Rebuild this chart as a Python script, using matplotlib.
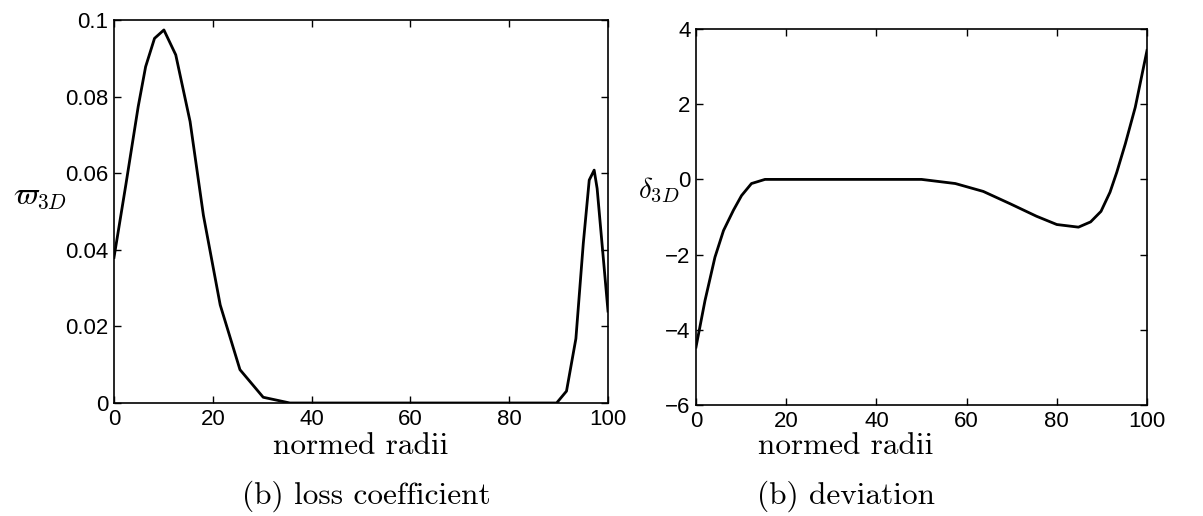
import numpy as np
import matplotlib
matplotlib.use("Agg")
import matplotlib.pyplot as plt

plt.rcParams['font.family'] = ['Liberation Sans', 'DejaVu Sans']
plt.rcParams['mathtext.fontset'] = 'cm'

# loss coefficient
r_loss = [0, 2.4, 4.9, 6.4, 8.2, 10.1, 12.5, 15.4, 18.1, 21.5, 25.5, 30.2, 35.6,
          40, 50, 60, 70, 80, 89.6, 91.6, 93.5, 95.0, 96.2, 97.2, 97.8, 100]
loss = [0.038, 0.057, 0.0774, 0.0878, 0.0952, 0.0974, 0.0909, 0.0735, 0.049,
        0.0256, 0.0087, 0.0015, 0.0, 0.0, 0.0, 0.0, 0.0, 0.0, 0.0, 0.0031,
        0.0168, 0.0417, 0.0582, 0.0608, 0.056, 0.024]

# deviation
r_dev = [0, 2.0, 4.2, 6.1, 8.3, 10.1, 12.3, 15.3, 20, 30, 40, 50, 57.5, 63.7,
         69.7, 75.5, 80, 84.8, 87.5, 89.8, 91.8, 93.3, 95.2, 97.4, 100]
dev = [-4.46, -3.22, -2.07, -1.36, -0.82, -0.43, -0.11, 0.0, 0.0, 0.0, 0.0, 0.0,
       -0.11, -0.32, -0.65, -0.98, -1.2, -1.27, -1.13, -0.85, -0.34, 0.19, 0.95,
       1.92, 3.43]

W, H = 1203, 516
fig = plt.figure(figsize=(W / 100, H / 100), dpi=100)

ax1 = fig.add_axes([114 / W, (H - 403) / H, (608 - 114) / W, (403 - 20) / H])
ax2 = fig.add_axes([696 / W, (H - 405) / H, (1147 - 696) / W, (405 - 29) / H])

ax1.plot(r_loss, loss, color='black', lw=2)
ax1.set_xlim(0, 100)
ax1.set_ylim(0, 0.1)
ax1.set_xticks([0, 20, 40, 60, 80, 100])
ax1.set_yticks([0, 0.02, 0.04, 0.06, 0.08, 0.1])
ax1.set_yticklabels(['0', '0.02', '0.04', '0.06', '0.08', '0.1'])

ax2.plot(r_dev, dev, color='black', lw=2)
ax2.set_xlim(0, 100)
ax2.set_ylim(-6, 4)
ax2.set_xticks([0, 20, 40, 60, 80, 100])
ax2.set_yticks([-6, -4, -2, 0, 2, 4])
ax2.set_yticklabels(['\u22126', '\u22124', '\u22122', '0', '2', '4'])

for ax in (ax1, ax2):
    ax.tick_params(direction='in', top=True, right=True, length=5, width=1,
                   labelsize=16, pad=4, colors='black')
    for s in ax.spines.values():
        s.set_linewidth(1.2)
        s.set_color('black')

fig.text(40 / W, 1 - 196 / H, r'$\varpi_{3D}$', fontsize=22, ha='center', va='center')
fig.text(659 / W, 1 - 190 / H, r'$\delta_{3D}$', fontsize=21, ha='center', va='center')

fig.text(361 / W, 1 - 446 / H, 'normed radii', family='cmr10', fontsize=22.5,
         ha='center', va='center')
fig.text(366 / W, 1 - 496 / H, '(b) loss coefficient', family='cmr10', fontsize=22.5,
         ha='center', va='center')
fig.text(846 / W, 1 - 446 / H, 'normed radii', family='cmr10', fontsize=22.5,
         ha='center', va='center')
fig.text(846 / W, 1 - 496 / H, '(b) deviation', family='cmr10', fontsize=22.5,
         ha='center', va='center')

fig.savefig('out.png', dpi=100)
